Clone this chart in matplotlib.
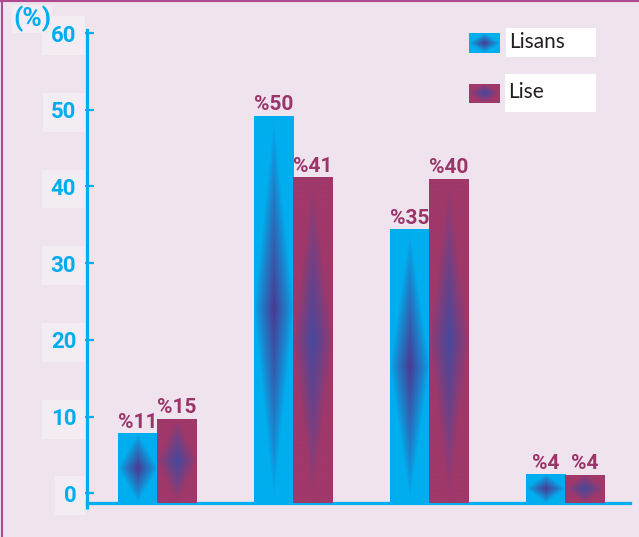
import numpy as np
import matplotlib
matplotlib.use("Agg")
import matplotlib.pyplot as plt
from matplotlib.patches import Rectangle
from matplotlib.colors import to_rgb

# data
groups = ["1", "2", "3", "4"]
lisans_height = [7.8, 49.2, 34.4, 2.5]
lise_height = [9.7, 41.2, 41.0, 2.4]
lisans_label = [11, 50, 35, 4]
lise_label = [15, 41, 40, 4]
yticks = [0, 10, 20, 30, 40, 50, 60]
series_names = ["Lisans", "Lise"]

BG = "#efe3ee"
CYAN = "#00aeef"
PURP = "#a0386a"
LBL = "#9b3569"
BOXC = "#f3ecf3"
BOLD = ['Roboto', 'DejaVu Sans']

W, H = 639, 537
plt.rcParams['font.family'] = ['Lato', 'DejaVu Sans']


def fx(px):
    return px / W


def fy(py):
    return (H - py) / H


def diamond(edge, center, n=200, m=200, gamma=0.9):
    yy, xx = np.mgrid[-1:1:complex(0, m), -1:1:complex(0, n)]
    d = np.clip(np.abs(xx) + np.abs(yy), 0, 1)
    t = (1 - d) ** gamma
    e = np.array(to_rgb(edge))
    c = np.array(to_rgb(center))
    return e[None, None, :] * (1 - t[..., None]) + c[None, None, :] * t[..., None]


grad_lisans = diamond(CYAN, "#4a3a92")
grad_lise = diamond(PURP, "#46489c")

fig = plt.figure(figsize=(W / 100, H / 100), dpi=100, facecolor=BG)
ax = fig.add_axes([fx(87), fy(503), fx(630) - fx(87), fy(30) - fy(503)])
ax.set_facecolor(BG)

x = np.arange(len(groups))
bw = 0.287
base = -1.27
b1 = ax.bar(x - bw / 2, np.array(lisans_height) - base, bw, bottom=base,
            color=CYAN, linewidth=0, zorder=2)
b2 = ax.bar(x + bw / 2, np.array(lise_height) - base, bw, bottom=base,
            color=PURP, linewidth=0, zorder=2)

for bars, grad in [(b1, grad_lisans), (b2, grad_lise)]:
    for r in bars:
        x0, y0 = r.get_x(), r.get_y()
        im = ax.imshow(grad, extent=(x0, x0 + r.get_width(), y0, y0 + r.get_height()),
                       aspect='auto', zorder=3, interpolation='bilinear')
        im.set_clip_path(r)

for bars, labels in [(b1, lisans_label), (b2, lise_label)]:
    for r, v in zip(bars, labels):
        ax.text(r.get_x() + r.get_width() / 2, r.get_y() + r.get_height() + 0.2, f"%{v}",
                ha='center', va='bottom', color=LBL, fontsize=15, fontweight='bold',
                family=BOLD, zorder=4)

ax.set_xlim(-0.515, 3.478)
ax.set_ylim(base, 60.4)
ax.set_xticks([])
ax.set_yticks(yticks)
ax.set_yticklabels([str(t) for t in yticks])
ax.tick_params(axis='y', direction='inout', length=9.5, width=1.6, color=CYAN,
               labelcolor=CYAN, labelsize=16, pad=3)
for lab in ax.get_yticklabels():
    lab.set_fontweight('bold')
    lab.set_family(BOLD)
    lab.set_bbox(dict(facecolor=BOXC, edgecolor='none', pad=6))
for s in ['top', 'right']:
    ax.spines[s].set_visible(False)
for s in ['left', 'bottom']:
    ax.spines[s].set_color(CYAN)
    ax.spines[s].set_linewidth(2.3)
# small overshoot of the y axis below the baseline
ax.plot([0, 0], [-0.012, 0], transform=ax.transAxes, color=CYAN, lw=2.3,
        clip_on=False, solid_capstyle='butt')

fig.text(fx(32), fy(19), "(%)", ha='center', va='center', color=CYAN,
         fontsize=19, fontweight='bold', family=BOLD,
         bbox=dict(facecolor=BOXC, edgecolor='none', pad=1))

# legend
for name, grad, (ptop, pbot), (btop, bbot), left in [
        (series_names[0], grad_lisans, (33, 53), (28, 57), 506),
        (series_names[1], grad_lise, (84, 103), (74, 112), 505)]:
    lax = fig.add_axes([fx(469), fy(pbot), fx(500) - fx(469), fy(ptop) - fy(pbot)])
    lax.imshow(grad, aspect='auto', interpolation='bilinear')
    lax.axis('off')
    fig.patches.append(Rectangle((fx(left), fy(bbot)), fx(596) - fx(left), fy(btop) - fy(bbot),
                                 transform=fig.transFigure, facecolor='white',
                                 edgecolor='none', zorder=0))
    fig.text(fx(left + 3), fy((ptop + pbot) / 2 - 1), name, ha='left', va='center',
             color='#231f20', fontsize=15)

# frame
fig.add_artist(plt.Line2D([fx(2), fx(2)], [0, 1], color='#b04a8e', lw=1.5))
fig.add_artist(plt.Line2D([0, 1], [fy(1), fy(1)], color='#b04a8e', lw=1.5))

fig.savefig("out.png", dpi=100, facecolor=BG)
